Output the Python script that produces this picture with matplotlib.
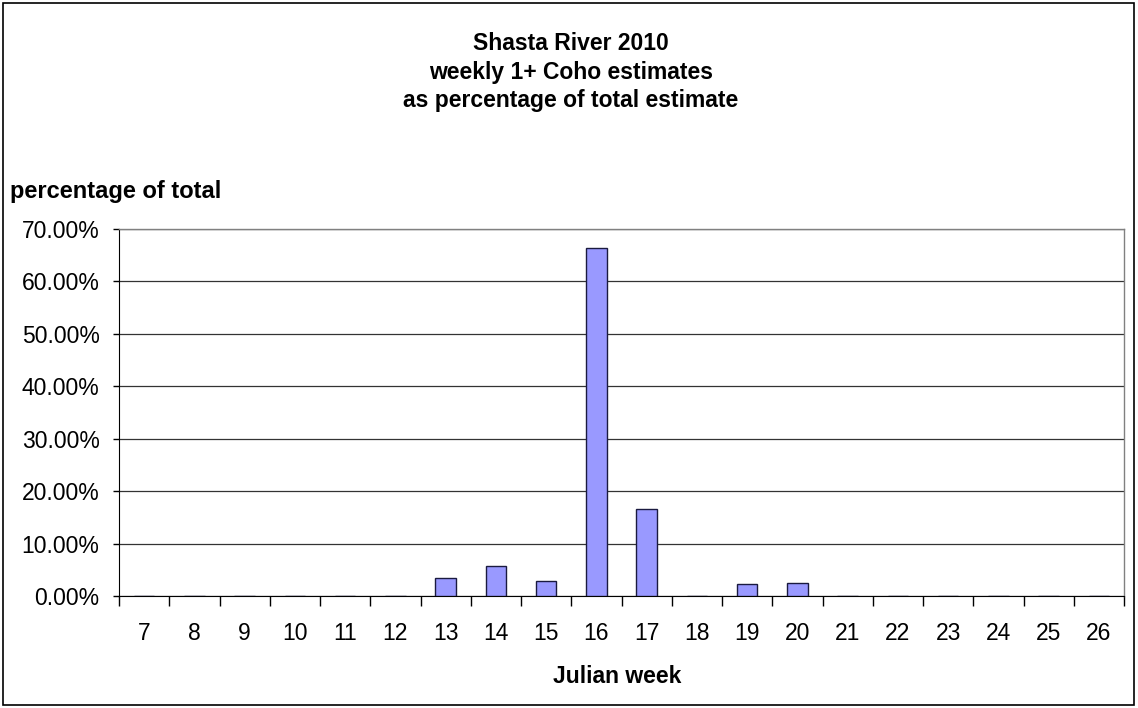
import matplotlib.pyplot as plt
from matplotlib.ticker import FuncFormatter
from matplotlib.patches import Rectangle

plt.rcParams['font.family'] = ['Liberation Sans', 'DejaVu Sans']

# weekly 1+ coho estimate as percent of the season total
weeks = ['7', '8', '9', '10', '11', '12', '13', '14', '15', '16',
         '17', '18', '19', '20', '21', '22', '23', '24', '25', '26']
pct = [0, 0, 0, 0, 0, 0, 3.4, 5.7, 2.9, 66.4,
       16.6, 0, 2.2, 2.4, 0, 0, 0, 0, 0, 0]
y_ticks = [0, 10, 20, 30, 40, 50, 60, 70]
title_lines = ['Shasta River 2010', 'weekly 1+ Coho estimates',
               'as percentage of total estimate']

W, H = 1138, 708
fig = plt.figure(figsize=(W / 100, H / 100), dpi=100)
ax = fig.add_axes([119 / W, 1 - 596 / H, 1005 / W, 367 / H])

# outer chart frame
fig.patches.append(Rectangle((3 / W, 3 / H), 1131 / W, 702 / H,
                             transform=fig.transFigure, fill=False,
                             edgecolor='black', linewidth=1.2))

x = list(range(len(weeks)))
ax.bar(x, pct, width=0.41, color='#9999FF', edgecolor='#1a1a40',
       linewidth=1.0, zorder=3)

ax.set_xlim(-0.5, len(weeks) - 0.5)
ax.set_ylim(0, 70)
ax.set_yticks(y_ticks)
ax.yaxis.set_major_formatter(FuncFormatter(lambda v, p: f'{v:.2f}%'))
ax.grid(axis='y', color='#333333', linewidth=0.9, zorder=0)

# category ticks sit between the bars
ax.set_xticks(x)
ax.set_xticklabels(weeks)
ax.set_xticks([i - 0.5 for i in range(len(weeks) + 1)], minor=True)
ax.tick_params(axis='x', which='major', length=0, pad=19, labelsize=16.5)
ax.tick_params(axis='x', which='minor', length=7, width=1, direction='out')
ax.tick_params(axis='y', length=4, width=1, labelsize=16.5, pad=10)

for side in ['top', 'right']:
    ax.spines[side].set_color('#808080')
    ax.spines[side].set_linewidth(1)
ax.spines['left'].set_color('black')
ax.spines['bottom'].set_color('black')

for i, line in enumerate(title_lines):
    fig.text(571 / W, 1 - (50 + 28.5 * i) / H, line, ha='center',
             va='baseline', fontsize=16.5, fontweight='bold')
fig.text(10 / W, 1 - 198 / H, 'percentage of total', ha='left',
         va='baseline', fontsize=17, fontweight='bold')
fig.text(617 / W, 1 - 683 / H, 'Julian week', ha='center',
         va='baseline', fontsize=16.5, fontweight='bold')

fig.savefig('out.png', dpi=100)
